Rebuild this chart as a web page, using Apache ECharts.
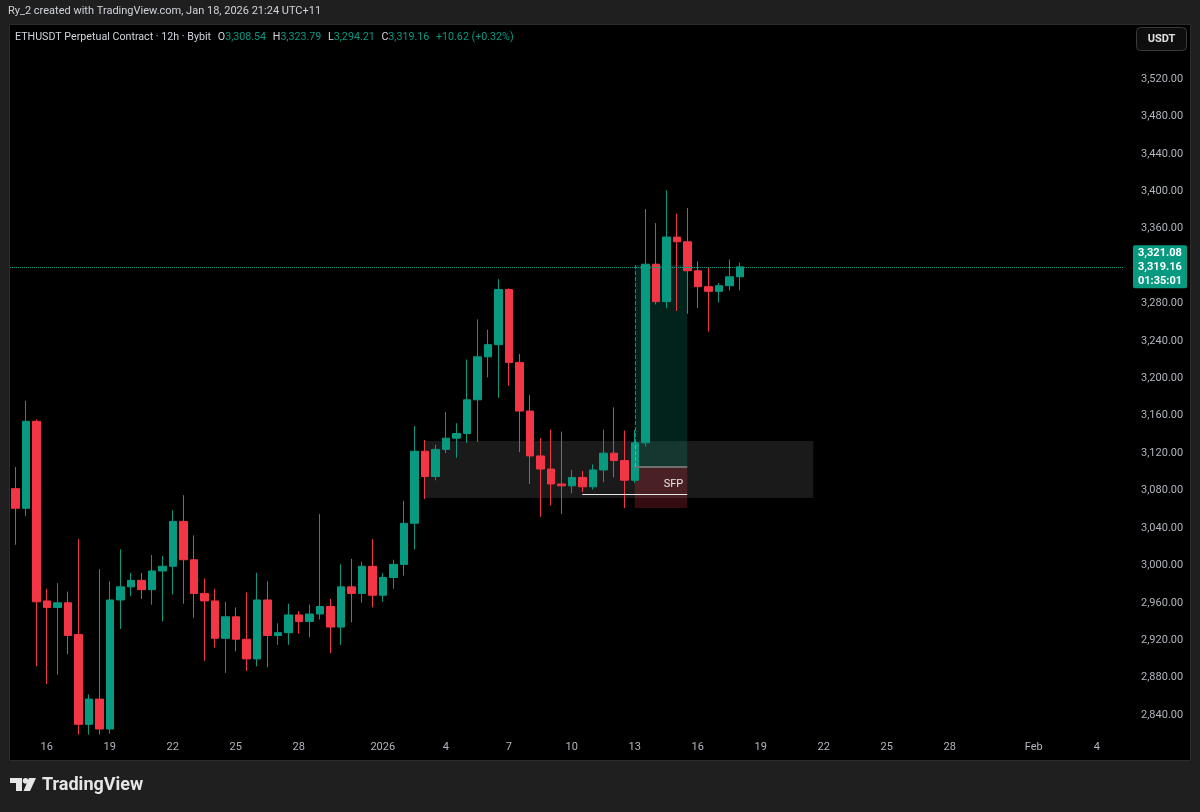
<!DOCTYPE html>
<html>
<head>
<meta charset="utf-8">
<script src="https://cdn.jsdelivr.net/npm/echarts@6/dist/echarts.min.js"></script>
<style>
html,body{margin:0;padding:0;background:#1f1f1f;}
#chart{width:1200px;height:812px;}
</style>
</head>
<body>
<div id="chart"></div>
<script>
// ---- data (ETHUSDT 12h candles) ----
const opens  = [3082,3061,3154,2962,2955,2960,2926,2830,2857,2825,2963,2977,2984,2974,2994,2999,3047,3006,2970,2962,
                2922,2945,2921,2900,2963,2925,2928,2947,2940,2948,2956,2934,2977,2970,2999,2968,2987,3001,3045,3122,
                3095,3124,3136,3141,3177,3223,3236,3295,3217,3165,3117,3103,3087,3085,3094,3084,3102,3120,3112,3091,
                3131,3322,3282,3351,3346,3315,3298,3293,3299,3308.54];
const highs  = [3105,3176,3156,2975,2981,2972,3028,2862,2996,2983,3017,2992,2992,3011,3010,3059,3075,3032,2986,2975,
                2961,2955,2971,2992,2983,2938,2959,2951,2958,3055,2964,3001,3007,3004,3028,2992,3006,3069,3149,3134,
                3129,3164,3152,3220,3263,3252,3306,3296,3226,3182,3136,3145,3143,3102,3101,3108,3145,3169,3144,3145,
                3381,3366,3401,3376,3382,3325,3318,3302,3327,3323.79];
const lows   = [3022,3053,2892,2873,2883,2905,2819,2819,2819,2820,2932,2967,2964,2958,2940,2969,2959,2944,2898,2912,
                2885,2908,2887,2892,2891,2915,2915,2927,2923,2942,2906,2915,2939,2960,2955,2961,2975,2989,3017,3071,
                3091,3120,3115,3131,3132,3201,3179,3192,3121,3087,3052,3064,3055,3077,3078,3081,3089,3094,3061.29,3088,
                3127,3279,3275,3272,3269,3275,3250,3281,3294,3294.21];
const closes = [3061,3154,2961,2955,2960,2925,2830,2857,2825,2963,2977,2984,2974,2994,2999,3047,3006,2970,2962,2922,
                2945,2921,2900,2963,2925,2928,2947,2940,2948,2956,2934,2977,2970,2999,2968,2987,3001,3045,3122,3095,
                3124,3136,3141,3177,3223,3236,3295,3217,3165,3117,3103,3087,3085,3094,3084,3102,3120,3112,3091,3131,
                3322,3282,3351,3346,3315,3298,3293,3299,3308.54,3319.16];

// time slots (12h) of the category axis, incl. empty future slots
const slotStartUTC = Date.UTC(2025, 11, 14, 12);
const slotCount = 106;
const tickDays = [1,4,7,10,13,16,19,22,25,28];
const monthNames = ['Jan','Feb','Mar','Apr','May','Jun','Jul','Aug','Sep','Oct','Nov','Dec'];

// price axis
const yMin = 2800, yMax = 3573.5, yInterval = 40, yLabelLow = 2840, yLabelHigh = 3520;
const yHiddenLabels = [3320];

// drawings
const lastPrice = 3319.16, targetPrice = 3321.08, entryPrice = 3105.12, stopPrice = 3061.29;
const countdown = '01:35:01';
const zoneTop = 3133, zoneBottom = 3072, zoneFromSlot = 39, zoneToSlot = 76;
const posFromSlot = 59, posToSlot = 64;
const sfpLevel = 3076.3, sfpFromSlot = 54, sfpToSlot = 64;

// ---- build ----
const pad = n => String(n).padStart(2,'0');
const categories = [];
for (let i = 0; i < slotCount; i++) {
  const d = new Date(slotStartUTC + i * 12 * 3600 * 1000);
  categories.push(d.getUTCFullYear() + '-' + pad(d.getUTCMonth()+1) + '-' + pad(d.getUTCDate()) + 'T' + pad(d.getUTCHours()) + ':00');
}
function xLabel(value) {
  const d = new Date(value + ':00Z');
  if (d.getUTCHours() !== 0) return '';
  const day = d.getUTCDate();
  if (tickDays.indexOf(day) < 0) return '';
  if (day === 1) return d.getUTCMonth() === 0 ? String(d.getUTCFullYear()) : monthNames[d.getUTCMonth()];
  return String(day);
}
const fmt = v => v.toLocaleString('en-US', {minimumFractionDigits: 2, maximumFractionDigits: 2});
const candles = opens.map((o, i) => [o, closes[i], lows[i], highs[i]]);

const n = closes.length;
const change = closes[n-1] - closes[n-2];
const changePct = change / closes[n-2] * 100;

const FONT = 'Roboto, "Liberation Sans", Arial, sans-serif';
const tagLabel = (text, bg) => ({
  show: true, position: 'end', distance: 10, formatter: text,
  backgroundColor: bg, color: '#ffffff', fontSize: 11, fontWeight: 'bold',
  fontFamily: FONT, lineHeight: 14, padding: [1, 5, 0, 5], borderRadius: 2
});

const chart = echarts.init(document.getElementById('chart'), null, {renderer: 'canvas'});
chart.setOption({
  backgroundColor: '#1f1f1f',
  animation: false,
  textStyle: {fontFamily: FONT},
  grid: {left: 10, right: 77, top: 29, bottom: 59.6, containLabel: false},
  xAxis: {
    type: 'category', data: categories, boundaryGap: true, offset: -11,
    axisLine: {show: false}, axisTick: {show: false}, splitLine: {show: false},
    axisLabel: {
      color: '#b2b5be', fontSize: 11, margin: 0, fontFamily: FONT,
      interval: (idx, val) => xLabel(val) !== '',
      formatter: val => xLabel(val)
    }
  },
  yAxis: {
    type: 'value', position: 'right', min: yMin, max: yMax, interval: yInterval, scale: true,
    axisLine: {show: false}, axisTick: {show: false}, splitLine: {show: false},
    axisLabel: {
      color: '#b2b5be', fontSize: 11, margin: 18, fontFamily: FONT,
      formatter: v => (v < yLabelLow || v > yLabelHigh || yHiddenLabels.indexOf(v) >= 0) ? '' : fmt(v)
    }
  },
  series: [{
    type: 'candlestick',
    data: candles,
    barWidth: 8,
    silent: true,
    itemStyle: {color: '#089981', color0: '#f23645', borderColor: '#089981', borderColor0: '#f23645', borderWidth: 1},
    markArea: {
      silent: true,
      data: [
        [{xAxis: zoneFromSlot, yAxis: zoneTop, itemStyle: {color: 'rgba(255,255,255,0.10)'}}, {xAxis: zoneToSlot, yAxis: zoneBottom}],
        [{xAxis: posFromSlot, yAxis: targetPrice, itemStyle: {color: 'rgba(8,153,129,0.22)'}}, {xAxis: posToSlot, yAxis: entryPrice}],
        [{xAxis: posFromSlot, yAxis: entryPrice, itemStyle: {color: 'rgba(242,54,69,0.22)'}}, {xAxis: posToSlot, yAxis: stopPrice}]
      ]
    },
    markLine: {
      silent: true, symbol: ['none', 'none'], animation: false,
      data: [
        {yAxis: lastPrice, lineStyle: {color: '#089981', type: 'dotted', width: 1},
         label: tagLabel(fmt(targetPrice) + '\n' + fmt(lastPrice) + '\n' + countdown, '#089981')},
        {yAxis: entryPrice, lineStyle: {opacity: 0}, label: tagLabel(fmt(entryPrice), '#7d7d7d')},
        {yAxis: stopPrice, lineStyle: {opacity: 0}, label: tagLabel(fmt(stopPrice), '#f23645')},
        [{coord: [posFromSlot, entryPrice], lineStyle: {color: '#6f6f6f', width: 2, type: 'solid'}, label: {show: false}},
         {coord: [posToSlot, entryPrice]}],
        [{coord: [posFromSlot, entryPrice], lineStyle: {color: 'rgba(200,200,200,0.45)', width: 1, type: 'dashed'}, label: {show: false}},
         {coord: [posFromSlot, targetPrice]}],
        [{coord: [sfpFromSlot, sfpLevel], lineStyle: {color: '#e6e6e6', width: 1, type: 'solid'},
          label: {show: true, position: 'insideEndTop', formatter: 'SFP', color: '#e6e6e6', fontSize: 11, fontFamily: FONT, distance: 4}},
         {coord: [sfpToSlot, sfpLevel]}]
      ]
    }
  }],
  graphic: [
    {type: 'rect', z: -10, shape: {x: 9.5, y: 24.5, width: 1181, height: 736},
     style: {fill: '#000000', stroke: '#2c2c2c', lineWidth: 1}},
    {type: 'text', x: 8, y: 6, style: {text: 'Ry_2 created with TradingView.com, Jan 18, 2026 21:24 UTC+11', fill: '#d1d4dc', font: '11px ' + FONT}},
    {type: 'text', x: 15, y: 31, style: {
      text: '{t|ETHUSDT Perpetual Contract · 12h · Bybit}  {k|O}{v|' + fmt(opens[n-1]) + '}  {k|H}{v|' + fmt(highs[n-1]) +
            '}  {k|L}{v|' + fmt(lows[n-1]) + '}  {k|C}{v|' + fmt(closes[n-1]) + '}  {v|' + (change >= 0 ? '+' : '') + change.toFixed(2) +
            ' (' + (change >= 0 ? '+' : '') + changePct.toFixed(2) + '%)}',
      rich: {
        t: {fill: '#d1d4dc', fontSize: 10.7, fontFamily: FONT},
        k: {fill: '#d1d4dc', fontSize: 10.7, fontFamily: FONT},
        v: {fill: '#089981', fontSize: 10.7, fontFamily: FONT}
      }
    }},
    {type: 'rect', shape: {x: 1136.5, y: 27.5, width: 50, height: 23, r: 4},
     style: {fill: '#0e0e0e', stroke: '#3a3a3a', lineWidth: 1}},
    {type: 'text', x: 1161.5, y: 39, style: {text: 'USDT', fill: '#e0e0e0', font: 'bold 11px ' + FONT, align: 'center', verticalAlign: 'middle'}},
    // TradingView logo
    {type: 'polygon', shape: {points: [[10,778],[22,778],[22,791],[16,791],[16,783],[10,783]]}, style: {fill: '#e6e6e6'}},
    {type: 'circle', shape: {cx: 25.5, cy: 780.8, r: 2.8}, style: {fill: '#e6e6e6'}},
    {type: 'polygon', shape: {points: [[29,778],[36,778],[30,791],[23.5,791]]}, style: {fill: '#e6e6e6'}},
    {type: 'text', x: 42, y: 785, style: {text: 'TradingView', fill: '#e6e6e6', font: 'bold 18px ' + FONT, verticalAlign: 'middle'}}
  ]
});
</script>
</body>
</html>
